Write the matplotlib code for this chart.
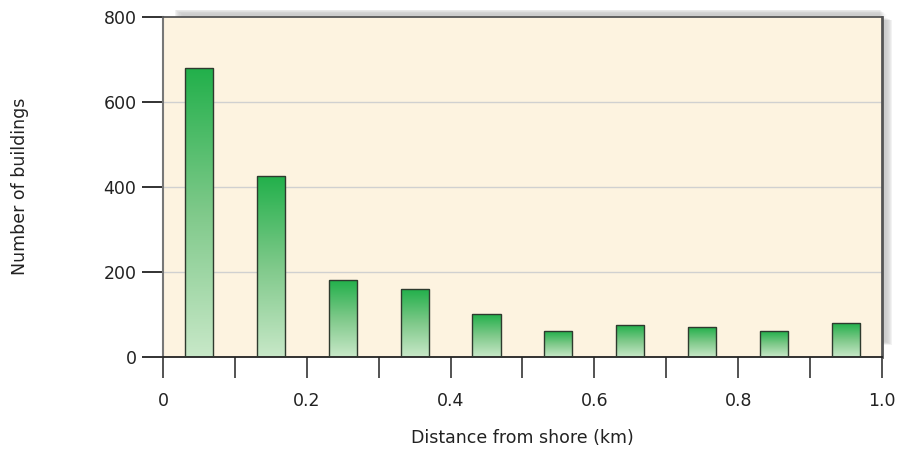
import numpy as np
import matplotlib
matplotlib.use("Agg")
import matplotlib.pyplot as plt
from matplotlib.colors import LinearSegmentedColormap
from matplotlib.patches import Rectangle

# data
bin_centers = [0.05, 0.15, 0.25, 0.35, 0.45, 0.55, 0.65, 0.75, 0.85, 0.95]
counts = [680, 425, 180, 160, 100, 60, 75, 70, 60, 80]
xticks_major = [0, 0.2, 0.4, 0.6, 0.8, 1.0]
xtick_labels = ["0", "0.2", "0.4", "0.6", "0.8", "1.0"]
yticks = [0, 200, 400, 600, 800]

bg = "#fdf3e0"
green_cmap = LinearSegmentedColormap.from_list("g", ["#c8e8c8", "#7fc98a", "#22b04b"])

fig = plt.figure(figsize=(9, 4.5), dpi=100)
ax = fig.add_axes([0.181, 0.207, 0.799, 0.755])
ax.set_facecolor(bg)
ax.set_xlim(0, 1.0)
ax.set_ylim(0, 800)

# drop shadow along top and right edges
for i in range(8):
    a = 0.10 * (1 - i / 8)
    pad = i * 0.0015
    ax.add_patch(Rectangle((0.017 + pad, 1.0), 0.997 - 0.017, 0.022 - i * 0.002,
                           transform=ax.transAxes, color="#808080", alpha=a,
                           clip_on=False, lw=0, zorder=0))
    ax.add_patch(Rectangle((1.0, 0.035 + pad), 0.014 - i * 0.0013, 0.99 - 0.035,
                           transform=ax.transAxes, color="#808080", alpha=a,
                           clip_on=False, lw=0, zorder=0))

for y in [200, 400, 600]:
    ax.axhline(y, color="#d0d0d0", lw=1.0, zorder=1)

grad = np.linspace(0, 1, 256).reshape(-1, 1)
bars = ax.bar(bin_centers, counts, width=0.039, color="none",
              edgecolor="#2e3a2e", linewidth=1.0, zorder=3)
for b in bars:
    x0, y0 = b.get_x(), b.get_y()
    w, h = b.get_width(), b.get_height()
    im = ax.imshow(grad, cmap=green_cmap, origin="lower", aspect="auto",
                   extent=[x0, x0 + w, y0, y0 + h], zorder=2)
    im.set_clip_path(b)
ax.set_xlim(0, 1.0)
ax.set_ylim(0, 800)

ax.set_xticks(np.arange(0, 1.01, 0.1))
ax.set_xticklabels([xtick_labels[xticks_major.index(round(v, 1))]
                    if round(v, 1) in xticks_major else "" for v in np.arange(0, 1.01, 0.1)])
ax.set_yticks(yticks)
ax.tick_params(axis="x", length=15, width=1.3, color="#444444", pad=10,
               labelsize=12.5, labelcolor="#222222")
ax.tick_params(axis="y", length=15, width=1.3, color="#222222", pad=4,
               labelsize=12.5, labelcolor="#222222")

ax.spines["left"].set_color("#777777")
ax.spines["left"].set_linewidth(1.5)
ax.spines["bottom"].set_color("#222222")
ax.spines["bottom"].set_linewidth(1.3)
ax.spines["top"].set_color("#555555")
ax.spines["top"].set_linewidth(1.3)
ax.spines["right"].set_color("#555555")
ax.spines["right"].set_linewidth(2.0)

fig.text(0.022, 0.585, "Number of buildings", rotation=90, ha="center", va="center",
         fontsize=12.5, color="#222222")
fig.text(0.58, 0.027, "Distance from shore (km)", ha="center", va="center",
         fontsize=12.5, color="#222222")

fig.savefig("out.png", dpi=100, facecolor="white")
